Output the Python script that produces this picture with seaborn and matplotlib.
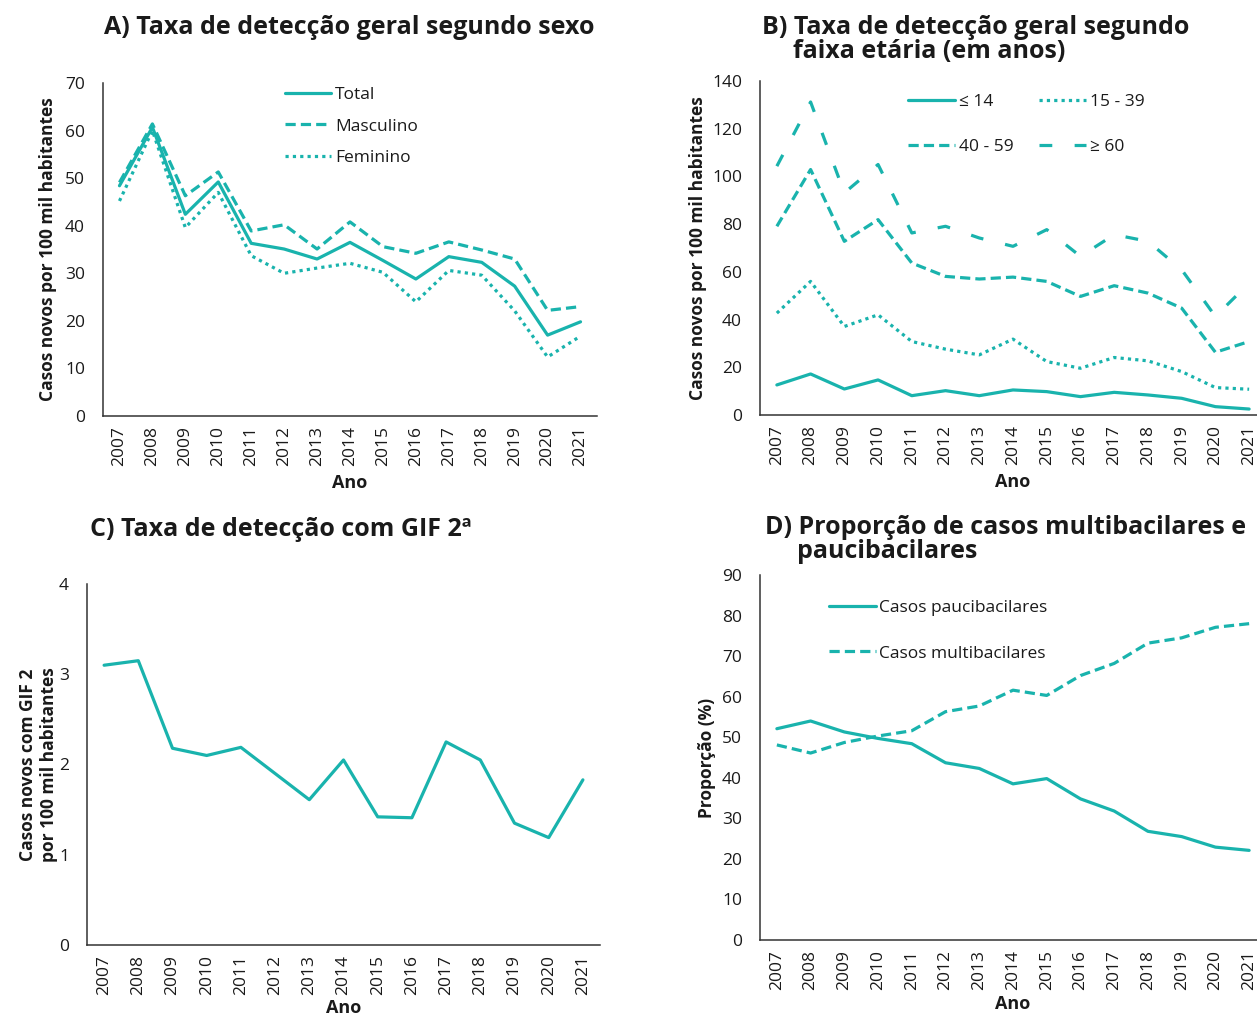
import numpy as np
import pandas as pd
import matplotlib
matplotlib.use("Agg")
import matplotlib.pyplot as plt
import seaborn as sns

# ============================
# Dados
# ============================
anos = list(range(2007, 2022))

# A) sexo
total = [48.4, 60.7, 42.4, 49.2, 36.3, 35.1, 33.0, 36.5, 32.7, 28.8, 33.5, 32.3, 27.3, 17.0, 19.8]
masculino = [49.1, 61.4, 46.3, 51.3, 38.9, 40.2, 35.1, 40.8, 35.6, 34.2, 36.6, 34.9, 33.0, 22.2, 23.0]
feminino = [45.2, 60.0, 39.6, 47.0, 33.7, 30.0, 31.1, 32.1, 30.2, 24.0, 30.6, 29.6, 22.1, 12.4, 16.8]

# B) faixa etária
ate_14 = [12.6, 17.2, 10.9, 14.7, 8.1, 10.2, 8.1, 10.5, 9.8, 7.7, 9.5, 8.4, 7.0, 3.5, 2.5]
de_15_39 = [42.7, 56.0, 37.1, 42.0, 30.8, 27.6, 25.2, 31.8, 22.4, 19.6, 24.1, 22.7, 18.2, 11.5, 10.8]
de_40_59 = [79.1, 102.9, 72.8, 81.9, 63.7, 58.1, 57.0, 57.8, 56.0, 49.7, 54.2, 51.1, 44.8, 26.3, 30.8]
acima_60 = [104.3, 131.2, 93.1, 105.0, 76.3, 79.1, 74.2, 70.7, 77.7, 66.5, 75.6, 72.8, 60.9, 41.3, 55.3]

# C) GIF 2
gif2 = [3.10, 3.15, 2.18, 2.10, 2.19, 1.90, 1.61, 2.05, 1.42, 1.41, 2.25, 2.05, 1.35, 1.19, 1.83]

# D) proporção
pauci = [52.1, 54.0, 51.3, 49.7, 48.4, 43.7, 42.3, 38.5, 39.8, 34.8, 31.8, 26.8, 25.5, 22.9, 22.1]
multi = [48.1, 46.1, 48.7, 50.3, 51.6, 56.3, 57.7, 61.6, 60.3, 65.2, 68.2, 73.2, 74.5, 77.1, 78.0]

# ============================
# Estilo
# ============================
sns.set_style("white")
plt.rcParams['font.family'] = ['Open Sans', 'DejaVu Sans']
plt.rcParams['text.color'] = '#1a1a1a'
plt.rcParams['axes.labelcolor'] = '#1a1a1a'
plt.rcParams['xtick.color'] = '#1a1a1a'
plt.rcParams['ytick.color'] = '#1a1a1a'

COR = '#19b3ad'
LW = 2.3
SOLIDA = '-'
TRACO = (0, (3.2, 1.6))
PONTO = (0, (1, 1.3))
LONGO = (0, (4, 7))

W, H = 1257, 1015
fig = plt.figure(figsize=(W / 100, H / 100), dpi=100)


def caixa(left, right, top, bottom):
    return [left / W, 1 - bottom / H, (right - left) / W, (bottom - top) / H]


def formatar(ax, ymax, ystep, ylabel, ylab_x, xlabpad=6):
    sns.despine(ax=ax)
    for s in ['left', 'bottom']:
        ax.spines[s].set_color('#333333')
        ax.spines[s].set_linewidth(1.1)
    ax.set_xlim(2006.5, 2021.5)
    ax.set_xticks(anos)
    ax.set_xticklabels([str(a) for a in anos], rotation=90, fontsize=12.5)
    ax.set_ylim(0, ymax)
    ax.set_yticks(np.arange(0, ymax + ystep / 2, ystep))
    ax.tick_params(axis='y', length=0, pad=13, labelsize=12.5)
    ax.tick_params(axis='x', length=0, pad=7)
    ax.set_xlabel('Ano', fontsize=13, fontweight='bold', labelpad=xlabpad)
    ax.set_ylabel(ylabel, fontsize=12.5, fontweight='bold', va='center', ha='center', linespacing=1.2)
    ax.yaxis.set_label_coords(ylab_x, 0.5)
    ax.grid(False)


def leg(ax, **kw):
    l = ax.legend(frameon=False, fontsize=12.5, handlelength=2.7, handletextpad=0.2, **kw)
    return l


# ============================
# A) sexo
# ============================
axA = fig.add_axes(caixa(103, 597, 83, 416))
sns.lineplot(x=anos, y=total, ax=axA, color=COR, lw=LW, linestyle=SOLIDA, label='Total')
sns.lineplot(x=anos, y=masculino, ax=axA, color=COR, lw=LW, linestyle=TRACO, label='Masculino')
sns.lineplot(x=anos, y=feminino, ax=axA, color=COR, lw=LW, linestyle=PONTO, label='Feminino')
formatar(axA, 70, 10, 'Casos novos por 100 mil habitantes', -0.112)
leg(axA, loc='upper left', bbox_to_anchor=(0.336, 1.035), labelspacing=0.88)

# ============================
# B) faixa etária
# ============================
axB = fig.add_axes(caixa(760, 1266, 81, 415))
sns.lineplot(x=anos, y=ate_14, ax=axB, color=COR, lw=LW, linestyle=SOLIDA, label='≤ 14')
sns.lineplot(x=anos, y=de_15_39, ax=axB, color=COR, lw=LW, linestyle=PONTO, label='15 - 39')
sns.lineplot(x=anos, y=de_40_59, ax=axB, color=COR, lw=LW, linestyle=TRACO, label='40 - 59')
sns.lineplot(x=anos, y=acima_60, ax=axB, color=COR, lw=LW, linestyle=LONGO, label='≥ 60')
formatar(axB, 140, 20, 'Casos novos por 100 mil habitantes', -0.123)
hB, lB = axB.get_legend_handles_labels()
ordem = [0, 2, 1, 3]
leg(axB, handles=[hB[i] for i in ordem], labels=[lB[i] for i in ordem], ncol=2,
    loc='upper left', bbox_to_anchor=(0.262, 1.008), labelspacing=1.65, columnspacing=1.5)

# ============================
# C) GIF 2
# ============================
axC = fig.add_axes(caixa(87, 600, 584, 945))
sns.lineplot(x=anos, y=gif2, ax=axC, color=COR, lw=LW, linestyle=SOLIDA)
formatar(axC, 4, 1, 'Casos novos com GIF 2\npor 100 mil habitantes', -0.095, xlabpad=3)

# ============================
# D) proporção
# ============================
axD = fig.add_axes(caixa(760, 1266, 575, 940))
sns.lineplot(x=anos, y=pauci, ax=axD, color=COR, lw=LW, linestyle=SOLIDA, label='Casos paucibacilares')
sns.lineplot(x=anos, y=multi, ax=axD, color=COR, lw=LW, linestyle=TRACO, label='Casos multibacilares')
formatar(axD, 90, 10, 'Proporção (%)', -0.105, xlabpad=4)
leg(axD, loc='upper left', bbox_to_anchor=(0.105, 0.975), labelspacing=1.7)

# ============================
# Títulos
# ============================
tkw = dict(fontsize=18, fontweight='bold', va='center', ha='left')
fig.text(104 / W, 1 - 27 / H, 'A) Taxa de detecção geral segundo sexo', **tkw)
fig.text(762 / W, 1 - 28 / H, 'B) Taxa de detecção geral segundo', **tkw)
fig.text(793 / W, 1 - 52 / H, 'faixa etária (em anos)', **tkw)
fig.text(90 / W, 1 - 529 / H, 'C) Taxa de detecção com GIF 2ª', **tkw)
fig.text(765 / W, 1 - 527 / H, 'D) Proporção de casos multibacilares e', **tkw)
fig.text(797 / W, 1 - 551 / H, 'paucibacilares', **tkw)

fig.savefig('out.png', dpi=100)
